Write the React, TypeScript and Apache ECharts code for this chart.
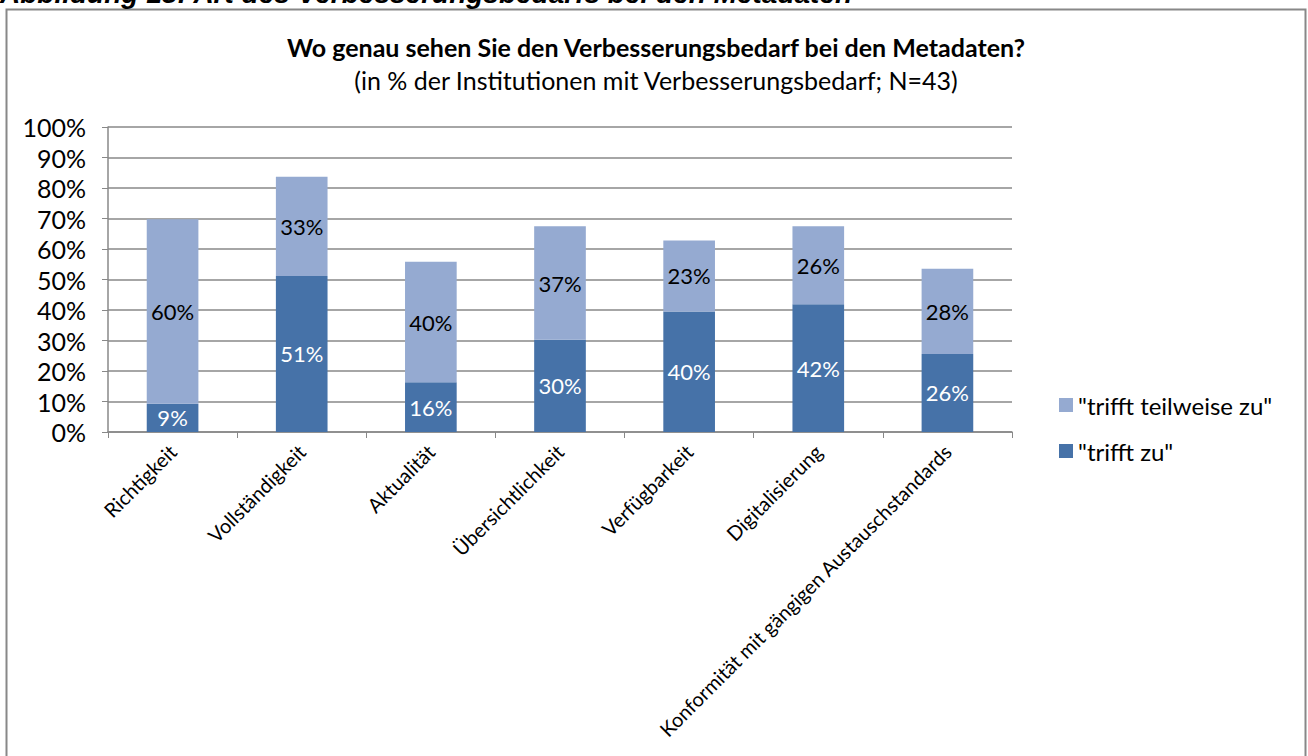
import React, { useEffect, useRef } from "react";
import * as echarts from "echarts";

const categories = [
  "Richtigkeit",
  "Vollständigkeit",
  "Aktualität",
  "Übersichtlichkeit",
  "Verfügbarkeit",
  "Digitalisierung",
  "Konformität mit gängigen Austauschstandards",
];
const trifftZu = [9.3, 51.16, 16.28, 30.23, 39.53, 41.86, 25.58];
const trifftTeilweise = [60.47, 32.56, 39.53, 37.21, 23.26, 25.58, 27.91];
const seriesNames = ['"trifft zu"', '"trifft teilweise zu"'];
const headerText = "Abbildung 18: Art des Verbesserungsbedarfs bei den Metadaten";
const titleText = "Wo genau sehen Sie den Verbesserungsbedarf bei den Metadaten?";
const subtitleText = "(in % der Institutionen mit Verbesserungsbedarf; N=43)";

const FONT = "Lato";
const DARK = "#4672A8";
const LIGHT = "#95AAD1";

export default function App() {
  const ref = useRef<HTMLDivElement>(null);
  useEffect(() => {
    if (!ref.current) return;
    const chart = echarts.init(ref.current, null, { renderer: "svg" });
    chart.setOption({
      animation: false,
      backgroundColor: "#fff",
      textStyle: { fontFamily: FONT },
      graphic: [
        {
          type: "rect",
          shape: { x: 6.5, y: 9.5, width: 1299, height: 800 },
          style: { fill: "none", stroke: "#888", lineWidth: 2 },
          silent: true,
        },
        {
          type: "text",
          x: 0,
          y: -7,
          style: {
            text: headerText,
            font: "italic bold 28px 'Liberation Sans', Arial",
            fill: "#000",
            verticalAlign: "middle",
          },
        },
        {
          type: "text",
          x: 656,
          y: 47,
          style: {
            text: titleText,
            font: `bold 25px ${FONT}`,
            fill: "#000",
            align: "center",
            verticalAlign: "middle",
          },
        },
        {
          type: "text",
          x: 656,
          y: 80,
          style: {
            text: subtitleText,
            font: `25px ${FONT}`,
            fill: "#000",
            align: "center",
            verticalAlign: "middle",
          },
        },
      ],
      legend: {
        orient: "vertical",
        left: 1054,
        top: 388,
        itemWidth: 14,
        itemHeight: 14,
        itemGap: 22,
        icon: "rect",
        data: [seriesNames[1], seriesNames[0]],
        textStyle: { fontSize: 24, color: "#000", fontFamily: FONT },
      },
      grid: { left: 108, right: 296, top: 127, bottom: 324, containLabel: false },
      xAxis: {
        type: "category",
        data: categories,
        axisLine: { lineStyle: { color: "#888", width: 1.5 } },
        axisTick: { show: true, length: 6, lineStyle: { color: "#888" } },
        axisLabel: {
          rotate: 45,
          interval: 0,
          fontSize: 20,
          color: "#000",
          margin: 16,
          fontFamily: FONT,
        },
      },
      yAxis: {
        type: "value",
        min: 0,
        max: 100,
        interval: 10,
        axisLine: { show: true, lineStyle: { color: "#888", width: 1.5 } },
        axisTick: { show: true, length: 6, lineStyle: { color: "#888" } },
        splitLine: { lineStyle: { color: "#888", width: 1.5 } },
        axisLabel: {
          formatter: "{value}%",
          fontSize: 25,
          color: "#000",
          margin: 22,
          fontFamily: FONT,
        },
      },
      series: [
        {
          name: seriesNames[0],
          type: "bar",
          stack: "total",
          data: trifftZu,
          barWidth: "40%",
          itemStyle: { color: DARK },
          label: {
            show: true,
            position: "inside",
            color: "#fff",
            fontSize: 22,
            fontFamily: FONT,
            formatter: (p: any) => Math.round(p.value) + "%",
          },
        },
        {
          name: seriesNames[1],
          type: "bar",
          stack: "total",
          data: trifftTeilweise,
          barWidth: "40%",
          itemStyle: { color: LIGHT },
          label: {
            show: true,
            position: "inside",
            color: "#000",
            fontSize: 22,
            fontFamily: FONT,
            formatter: (p: any) => Math.round(p.value) + "%",
          },
        },
      ],
    });
    return () => chart.dispose();
  }, []);
  return (
    <div
      ref={ref}
      style={{ position: "fixed", left: 0, top: 0, width: 1308, height: 756 }}
    />
  );
}
